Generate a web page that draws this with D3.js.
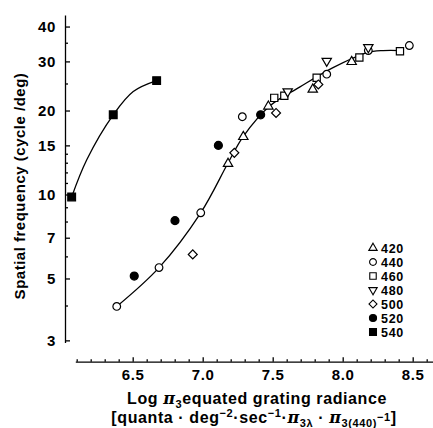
<!DOCTYPE html>
<html>
<head>
<meta charset="utf-8">
<script src="https://cdn.jsdelivr.net/npm/d3@7"></script>
<style>
body { margin: 0; background: #fff; }
text { font-family: "Liberation Sans", Arial, sans-serif; font-weight: bold; fill: #000; }
</style>
</head>
<body>
<svg id="chart" width="433" height="428"></svg>
<script>
// tick values
var xTicks = [6.5, 7.0, 7.5, 8.0, 8.5];
var xMinor = [6.1, 6.2, 6.3, 6.4, 6.6, 6.7, 6.8, 6.9, 7.1, 7.2, 7.3, 7.4, 7.6, 7.7, 7.8, 7.9, 8.1, 8.2, 8.3, 8.4, 8.6];
var yTicks = [3, 5, 7, 10, 15, 20, 30, 40];
var yMinor = [4, 6, 8, 9, 11, 12, 13, 14, 25, 35];
var wavelengths = ["420", "440", "460", "480", "500", "520", "540"];

// [log radiance, spatial frequency]
var s420 = [[7.181, 12.9], [7.290, 16.1], [7.469, 20.7], [7.786, 23.8], [8.064, 29.9]];
var s440 = [[6.386, 3.97], [6.688, 5.47], [6.986, 8.6], [7.283, 19.0], [7.886, 27.0], [8.183, 32.8], [8.476, 34.2]];
var s460 = [[7.511, 22.2], [7.583, 22.6], [7.814, 26.2], [8.119, 31.0], [8.409, 32.6]];
var s480 = [[7.607, 23.4], [7.886, 30.1], [8.183, 33.7]];
var s500 = [[6.929, 6.1], [7.226, 14.1], [7.524, 19.6], [7.826, 24.8]];
var s520 = [[6.511, 5.1], [6.802, 8.06], [7.112, 15.0], [7.414, 19.3]];
var s540 = [[6.064, 9.8], [6.361, 19.3], [6.671, 25.6]];

// hand fitted curves
var fit540 = [[6.064, 9.8], [6.171, 13.3], [6.361, 19.3], [6.504, 23.4], [6.671, 25.6]];
var fitMain = [[6.386, 3.97], [6.688, 5.47], [6.986, 8.6], [7.181, 12.97], [7.288, 16.1], [7.481, 20.8],
               [7.695, 24.3], [7.931, 28.5], [8.171, 32.2], [8.288, 32.8], [8.416, 32.8]];

var svg = d3.select("#chart");

var x = d3.scaleLinear().domain([6.09, 8.65]).range([75.3, 433.7]);
var y = d3.scaleLog().domain([2.95, 44]).range([342.4, 15]);

var xAxisY = 361.7, yAxisX = 65;

// x axis
var gx = svg.append("g").attr("transform", "translate(0," + xAxisY + ")");
gx.call(d3.axisBottom(x).tickValues(xMinor).tickFormat("").tickSizeInner(-2.5).tickSizeOuter(0));
var gx2 = svg.append("g").attr("transform", "translate(0," + xAxisY + ")");
gx2.call(d3.axisBottom(x).tickValues(xTicks).tickFormat(d3.format(".1f")).tickSizeInner(-4.5).tickSizeOuter(0).tickPadding(8));
gx2.select(".domain").remove();

// y axis
var gy = svg.append("g").attr("transform", "translate(" + yAxisX + ",0)");
gy.call(d3.axisLeft(y).tickValues(yMinor).tickFormat("").tickSizeInner(-3).tickSizeOuter(0));
var gy2 = svg.append("g").attr("transform", "translate(" + yAxisX + ",0)");
gy2.call(d3.axisLeft(y).tickValues(yTicks).tickFormat(d3.format("d")).tickSizeInner(-5).tickSizeOuter(0).tickPadding(9));
gy2.select(".domain").remove();

svg.selectAll(".domain, .tick line").attr("stroke", "#000").attr("stroke-width", 1.3);
svg.selectAll(".tick text").style("font-size", "15px").style("font-family", null).attr("letter-spacing", 0.6);

// axis titles
svg.append("text")
    .attr("transform", "translate(25,186) rotate(-90)")
    .attr("text-anchor", "middle")
    .style("font-size", "15px")
    .attr("letter-spacing", 0.5)
    .text("Spatial frequency (cycle /deg)");

var t1 = svg.append("text").attr("x", 257).attr("y", 404).attr("text-anchor", "middle")
    .style("font-size", "16px").attr("letter-spacing", 0.6);
t1.append("tspan").text("Log ");
t1.append("tspan").style("font-style", "italic").style("font-family", "'DejaVu Serif', serif").text("π");
t1.append("tspan").attr("dy", 4).style("font-size", "11px").text("3");
t1.append("tspan").attr("dy", -4).text("equated grating radiance");

var t2 = svg.append("text").attr("x", 254).attr("y", 423).attr("text-anchor", "middle")
    .style("font-size", "16px").attr("letter-spacing", 0.6);
t2.append("tspan").text("[quanta · deg");
t2.append("tspan").attr("dy", -6).style("font-size", "11px").text("−2");
t2.append("tspan").attr("dy", 6).text("·sec");
t2.append("tspan").attr("dy", -6).style("font-size", "11px").text("−1");
t2.append("tspan").attr("dy", 6).text("·");
t2.append("tspan").style("font-style", "italic").style("font-family", "'DejaVu Serif', serif").text("π");
t2.append("tspan").attr("dy", 4).style("font-size", "11px").text("3λ");
t2.append("tspan").attr("dy", -4).text(" · ");
t2.append("tspan").style("font-style", "italic").style("font-family", "'DejaVu Serif', serif").text("π");
t2.append("tspan").attr("dy", 4).style("font-size", "11px").text("3(440)");
t2.append("tspan").attr("dy", -6).style("font-size", "11px").text("−1");
t2.append("tspan").attr("dy", 2).text("]");

// fitted curves
var line = d3.line().x(function(d) { return x(d[0]); }).y(function(d) { return y(d[1]); })
    .curve(d3.curveCatmullRom.alpha(0.5));
[fit540, fitMain].forEach(function(f) {
    svg.append("path").attr("d", line(f)).attr("fill", "none").attr("stroke", "#000").attr("stroke-width", 1.3);
});

// symbol styles
var styles = {
    "420": { type: d3.symbolTriangle, size: 38, rot: 0, fill: "#fff" },
    "440": { type: d3.symbolCircle, size: 46, rot: 0, fill: "#fff" },
    "460": { type: d3.symbolSquare, size: 52, rot: 0, fill: "#fff" },
    "480": { type: d3.symbolTriangle, size: 38, rot: 180, fill: "#fff" },
    "500": { type: d3.symbolSquare, size: 40, rot: 45, fill: "#fff" },
    "520": { type: d3.symbolCircle, size: 50, rot: 0, fill: "#000" },
    "540": { type: d3.symbolSquare, size: 60, rot: 0, fill: "#000" }
};
var series = { "420": s420, "440": s440, "460": s460, "480": s480, "500": s500, "520": s520, "540": s540 };

wavelengths.forEach(function(w) {
    var st = styles[w];
    svg.append("g").selectAll("path")
        .data(series[w])
        .enter()
        .append("path")
        .attr("d", d3.symbol().type(st.type).size(st.size))
        .attr("transform", function(d) {
            return "translate(" + x(d[0]) + "," + y(d[1]) + ") rotate(" + st.rot + ")";
        })
        .attr("fill", st.fill)
        .attr("stroke", "#000")
        .attr("stroke-width", 1.2);
});

// legend
var legend = svg.append("g").attr("transform", "translate(373,248)");
var item = legend.selectAll("g")
    .data(wavelengths)
    .enter()
    .append("g")
    .attr("transform", function(d, i) { return "translate(0," + (i * 14) + ")"; });
item.append("path")
    .attr("d", function(d) { return d3.symbol().type(styles[d].type).size(styles[d].size * 0.8)(); })
    .attr("transform", function(d) { return "rotate(" + styles[d].rot + ")"; })
    .attr("fill", function(d) { return styles[d].fill; })
    .attr("stroke", "#000")
    .attr("stroke-width", 1.1);
item.append("text")
    .attr("x", 8)
    .attr("dy", "0.36em")
    .style("font-size", "12.5px")
    .attr("letter-spacing", 0.7)
    .text(function(d) { return d; });
</script>
</body>
</html>
